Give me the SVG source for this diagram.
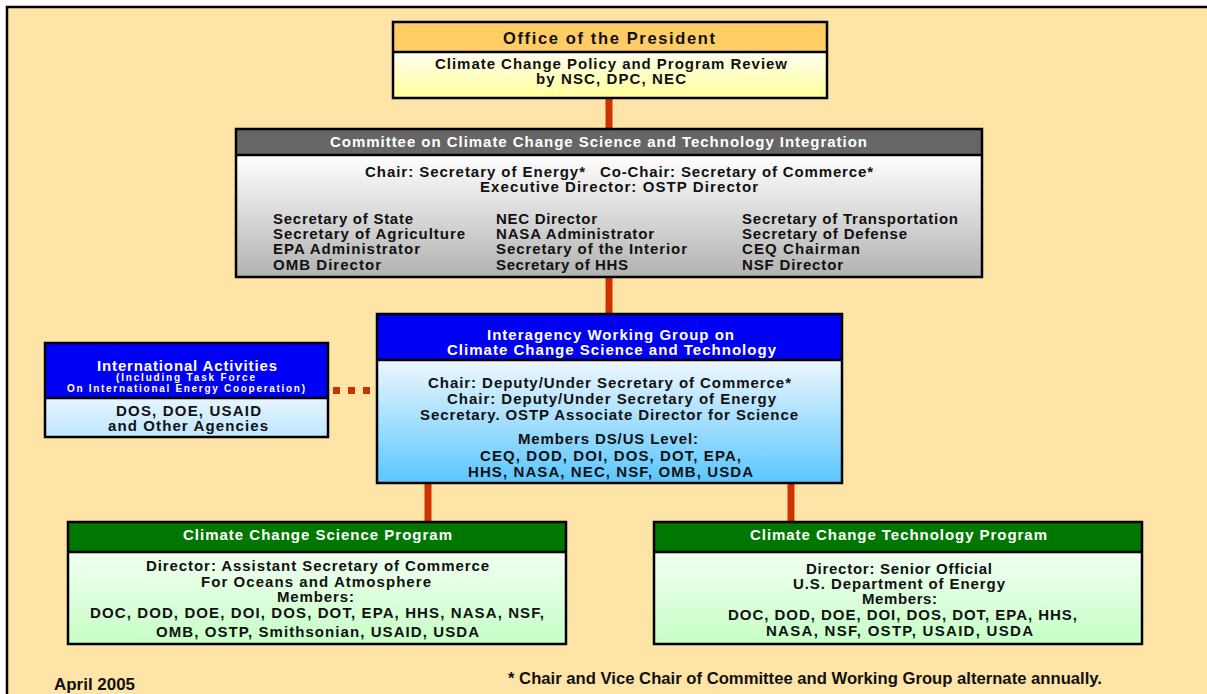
<svg xmlns="http://www.w3.org/2000/svg" width="1207" height="694" viewBox="0 0 1207 694">
<style>
text{font-family:"Liberation Sans",Arial,sans-serif;font-weight:bold;font-size:15px;fill:#111}
.w{fill:#fff}
.hd{font-size:16.5px}
.sm{font-size:10px}
.nar{font-size:17px}
.box{fill:none;stroke:#000;stroke-width:2.5}
.sep{stroke:#000;stroke-width:2.5}
.con{stroke:#CC3300;stroke-width:7;fill:none}
.dot{fill:#CC3300}
</style>
<defs>
<linearGradient id="gY" x1="0" y1="0" x2="0" y2="1"><stop offset="0" stop-color="#FFFFF2"/><stop offset="1" stop-color="#FFFF99"/></linearGradient>
<linearGradient id="gG" x1="0" y1="0" x2="0" y2="1"><stop offset="0" stop-color="#FFFFFF"/><stop offset="1" stop-color="#B2B2B2"/></linearGradient>
<linearGradient id="gB" x1="0" y1="0" x2="0" y2="1"><stop offset="0" stop-color="#EEF7FF"/><stop offset="1" stop-color="#5AC6FF"/></linearGradient>
<linearGradient id="gLB" x1="0" y1="0" x2="0" y2="1"><stop offset="0" stop-color="#E6F5FF"/><stop offset="1" stop-color="#BFE6FF"/></linearGradient>
<linearGradient id="gGr" x1="0" y1="0" x2="0" y2="1"><stop offset="0" stop-color="#F2FFF2"/><stop offset="1" stop-color="#C6FFC6"/></linearGradient>
</defs>
<rect x="0" y="0" width="1207" height="694" fill="#fff"/>
<rect x="7" y="7" width="1215" height="700" fill="#FFE4A8" stroke="#000" stroke-width="2.5"/>

<g id="connectors">
<line class="con" x1="609" y1="98" x2="609" y2="129"/>
<line class="con" x1="609" y1="277" x2="609" y2="314"/>
<line class="con" x1="428" y1="483" x2="428" y2="522"/>
<line class="con" x1="791" y1="483" x2="791" y2="522"/>
<rect class="dot" x="333" y="387" width="7" height="7"/>
<rect class="dot" x="348" y="387" width="7" height="7"/>
<rect class="dot" x="363" y="387" width="7" height="7"/>
</g>

<g id="president">
<rect x="393" y="22" width="434" height="30" fill="#FFCC66"/>
<rect x="393" y="52" width="434" height="46" fill="url(#gY)"/>
<line class="sep" x1="393" y1="52" x2="827" y2="52"/>
<rect class="box" x="393" y="22" width="434" height="76"/>
<text class="hd" x="503" y="44" textLength="212">Office of the President</text>
<text x="435" y="69" textLength="352">Climate Change Policy and Program Review</text>
<text x="536" y="84" textLength="150">by NSC, DPC, NEC</text>
</g>

<g id="committee">
<rect x="236" y="129" width="746" height="26" fill="#666666"/>
<rect x="236" y="155" width="746" height="122" fill="url(#gG)"/>
<line class="sep" x1="236" y1="155" x2="982" y2="155"/>
<rect class="box" x="236" y="129" width="746" height="148"/>
<text class="w" x="330" y="147" textLength="537">Committee on Climate Change Science and Technology Integration</text>
<text x="365" y="177" textLength="220">Chair: Secretary of Energy*</text>
<text x="600" y="177" textLength="273">Co-Chair: Secretary of Commerce*</text>
<text x="480" y="192" textLength="278">Executive Director: OSTP Director</text>
<text x="273" y="224" textLength="140">Secretary of State</text>
<text x="273" y="239" textLength="192">Secretary of Agriculture</text>
<text x="273" y="254" textLength="147">EPA Administrator</text>
<text x="273" y="270" textLength="108">OMB Director</text>
<text x="496" y="224" textLength="101">NEC Director</text>
<text x="496" y="239" textLength="158">NASA Administrator</text>
<text x="496" y="254" textLength="191">Secretary of the Interior</text>
<text x="496" y="270" textLength="132">Secretary of HHS</text>
<text x="742" y="224" textLength="216">Secretary of Transportation</text>
<text x="742" y="239" textLength="165">Secretary of Defense</text>
<text x="742" y="254" textLength="118">CEQ Chairman</text>
<text x="742" y="270" textLength="101">NSF Director</text>
</g>

<g id="iwg">
<rect x="377" y="314" width="465" height="46" fill="#0000F5"/>
<rect x="377" y="360" width="465" height="123" fill="url(#gB)"/>
<line class="sep" x1="377" y1="360" x2="842" y2="360"/>
<rect class="box" x="377" y="314" width="465" height="169"/>
<text class="w" x="487" y="340" textLength="247">Interagency Working Group on</text>
<text class="w" x="447" y="355" textLength="329">Climate Change Science and Technology</text>
<text x="428" y="388" textLength="363">Chair: Deputy/Under Secretary of Commerce*</text>
<text x="447" y="404" textLength="329">Chair: Deputy/Under Secretary of Energy</text>
<text x="420" y="420" textLength="378">Secretary. OSTP Associate Director for Science</text>
<text x="518" y="444" textLength="180">Members DS/US Level:</text>
<text x="480" y="461" textLength="261">CEQ, DOD, DOI, DOS, DOT, EPA,</text>
<text x="468" y="477" textLength="285">HHS, NASA, NEC, NSF, OMB, USDA</text>
</g>

<g id="international">
<rect x="45" y="343" width="283" height="55" fill="#0000F5"/>
<rect x="45" y="398" width="283" height="39" fill="url(#gLB)"/>
<line class="sep" x1="45" y1="398" x2="328" y2="398"/>
<rect class="box" x="45" y="343" width="283" height="94"/>
<text class="w" x="97" y="371" textLength="180">International Activities</text>
<text class="w sm" x="116" y="381" textLength="139">(Including Task Force</text>
<text class="w sm" x="67" y="392" textLength="238">On International Energy Cooperation)</text>
<text x="116" y="416" textLength="145">DOS, DOE, USAID</text>
<text x="108" y="431" textLength="160">and Other Agencies</text>
</g>

<g id="ccsp">
<rect x="68" y="522" width="498" height="30" fill="#007700"/>
<rect x="68" y="552" width="498" height="92" fill="url(#gGr)"/>
<line class="sep" x1="68" y1="552" x2="566" y2="552"/>
<rect class="box" x="68" y="522" width="498" height="122"/>
<text class="w" x="183" y="540" textLength="269">Climate Change Science Program</text>
<text x="146" y="571" textLength="343">Director: Assistant Secretary of Commerce</text>
<text x="201" y="587" textLength="230">For Oceans and Atmosphere</text>
<text x="277" y="602" textLength="77">Members:</text>
<text x="90" y="618" textLength="454">DOC, DOD, DOE, DOI, DOS, DOT, EPA, HHS, NASA, NSF,</text>
<text x="156" y="637" textLength="323">OMB, OSTP, Smithsonian, USAID, USDA</text>
</g>

<g id="cctp">
<rect x="654" y="522" width="488" height="30" fill="#007700"/>
<rect x="654" y="552" width="488" height="92" fill="url(#gGr)"/>
<line class="sep" x1="654" y1="552" x2="1142" y2="552"/>
<rect class="box" x="654" y="522" width="488" height="122"/>
<text class="w" x="750" y="540" textLength="297">Climate Change Technology Program</text>
<text x="806" y="574" textLength="186">Director: Senior Official</text>
<text x="793" y="589" textLength="212">U.S. Department of Energy</text>
<text x="862" y="604" textLength="75">Members:</text>
<text x="728" y="620" textLength="349">DOC, DOD, DOE, DOI, DOS, DOT, EPA, HHS,</text>
<text x="766" y="636" textLength="267">NASA, NSF, OSTP, USAID, USDA</text>
</g>

<g id="footer">
<text class="nar" x="54" y="690" textLength="81" lengthAdjust="spacingAndGlyphs">April 2005</text>
<text class="nar" x="508" y="684" textLength="594" lengthAdjust="spacingAndGlyphs">* Chair and Vice Chair of Committee and Working Group alternate annually.</text>
</g>
</svg>
